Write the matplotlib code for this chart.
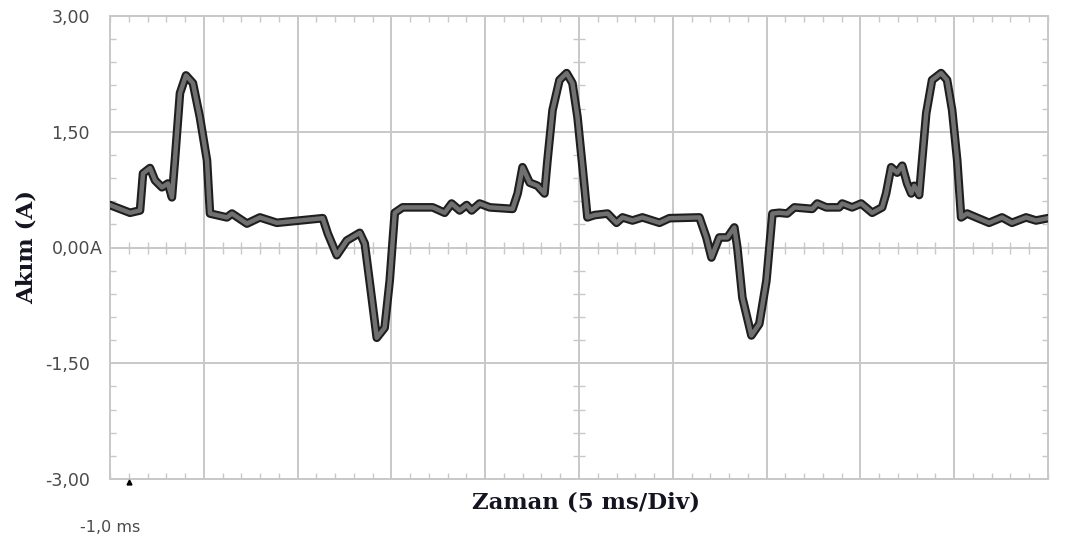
import numpy as np
import matplotlib.pyplot as plt
from matplotlib.ticker import MultipleLocator

# current trace, time in ms, current in A
t_ms = [-1.00, 0.07, 0.60, 0.76, 1.13, 1.40, 1.77, 2.09, 2.30, 2.46, 2.73, 3.05,
        3.42, 3.79, 4.17, 4.33, 5.23, 5.50, 6.30, 6.99, 7.89, 9.12, 10.34, 10.61,
        11.09, 11.62, 12.31, 12.58, 12.95, 13.22, 13.64, 13.91, 14.18, 14.60, 16.20,
        16.84, 17.21, 17.64, 18.01, 18.28, 18.70, 19.24, 20.46, 20.73, 20.99, 21.37,
        21.79, 22.16, 22.32, 22.59, 22.96, 23.34, 23.65, 23.92, 24.19, 24.45, 24.83,
        25.52, 26.00, 26.32, 26.85, 27.38, 28.29, 28.82, 30.42, 30.79, 31.06, 31.48,
        31.91, 32.28, 32.44, 32.71, 33.19, 33.61, 33.99, 34.31, 34.68, 35.10, 35.48,
        36.43, 36.70, 37.18, 37.87, 38.03, 38.56, 39.04, 39.63, 40.16, 40.37, 40.64,
        40.96, 41.23, 41.49, 41.71, 41.87, 42.13, 42.29, 42.51, 42.82, 43.30, 43.62,
        43.89, 44.16, 44.37, 44.69, 45.17, 45.86, 46.55, 47.08, 47.83, 48.36, 49.00]
akim = [0.55, 0.45, 0.48, 0.96, 1.03, 0.87, 0.78, 0.83, 0.65, 1.13, 2.00, 2.23,
        2.13, 1.69, 1.13, 0.44, 0.39, 0.44, 0.31, 0.39, 0.32, 0.35, 0.38, 0.18,
        -0.10, 0.09, 0.19, 0.05, -0.65, -1.17, -1.04, -0.43, 0.45, 0.52, 0.52,
        0.45, 0.57, 0.48, 0.55, 0.48, 0.57, 0.52, 0.50, 0.70, 1.04, 0.84,
        0.80, 0.70, 1.13, 1.78, 2.17, 2.26, 2.13, 1.69, 1.04, 0.39, 0.42,
        0.44, 0.32, 0.39, 0.35, 0.39, 0.32, 0.38, 0.39, 0.13, -0.13, 0.13,
        0.13, 0.26, 0.00, -0.65, -1.14, -0.99, -0.43, 0.44, 0.45, 0.44, 0.52,
        0.50, 0.57, 0.52, 0.52, 0.57, 0.52, 0.57, 0.45, 0.52, 0.70, 1.04,
        0.97, 1.06, 0.83, 0.70, 0.80, 0.68, 1.13, 1.74, 2.17, 2.26, 2.17,
        1.78, 1.13, 0.39, 0.44, 0.39, 0.32, 0.39, 0.32, 0.39, 0.35, 0.38]

y_ticks = [-3.0, -1.5, 0.0, 1.5, 3.0]
y_tick_labels = ['-3,00', '-1,50', '0,00', '1,50', '3,00']
t_start, t_div, n_div = -1.0, 5.0, 10

grid_c = '#c8c8c8'
label_c = '#4a4a4a'
title_c = '#141420'

fig = plt.figure(figsize=(10.66, 5.39), dpi=100)
ax = fig.add_axes([110 / 1066, 60 / 539, 938 / 1066, 463 / 539])

t_end = t_start + t_div * n_div
ax.set_xlim(t_start, t_end)
ax.set_ylim(-3, 3)

# grid every division, minor ticks every 1/5 division
ax.set_xticks(np.arange(t_start + t_div, t_end, t_div))
ax.set_yticks(y_ticks)
ax.set_yticklabels(y_tick_labels)
ax.xaxis.set_minor_locator(MultipleLocator(t_div / 5))
ax.yaxis.set_minor_locator(MultipleLocator(0.3))
ax.tick_params(axis='x', which='major', length=0, labelbottom=False)
ax.tick_params(axis='y', which='major', length=0, pad=14.4,
               labelsize=12.5, labelcolor=label_c)
ax.tick_params(which='minor', direction='in', length=4.3, width=1,
               color=grid_c, top=True, right=True)
ax.grid(True, which='major', color=grid_c, lw=1.4)
ax.set_axisbelow(True)
for s in ax.spines.values():
    s.set_color(grid_c)
    s.set_linewidth(1.4)

# unit suffix on the zero label
ax.annotate('A', xy=(0, 0), xycoords=('axes fraction', 'data'),
            xytext=(-14.4, 0), textcoords='offset points',
            ha='left', va='center_baseline', fontsize=12.5, color=label_c)

# cross ticks along the centre lines
xm = ax.xaxis.get_minorticklocs()
ym = ax.yaxis.get_minorticklocs()
xm = xm[(xm > t_start) & (xm < t_end)]
ym = ym[(ym > -3) & (ym < 3)]
t_mid = t_start + t_div * n_div / 2
ax.plot(xm, np.zeros(len(xm)), ls='none', marker='|', ms=8, mew=1,
        color=grid_c, zorder=1)
ax.plot(np.full(len(ym), t_mid), ym, ls='none', marker='_', ms=8, mew=1,
        color=grid_c, zorder=1)

# trace: dark outline with grey core
ax.plot(t_ms, akim, color='#1e1e1e', lw=6.2, solid_joinstyle='round',
        solid_capstyle='round', zorder=3)
ax.plot(t_ms, akim, color='#707070', lw=3.2, solid_joinstyle='round',
        solid_capstyle='round', zorder=4)

# trigger point marker
ax.plot([0], [-3.04], marker='^', ms=3.5, color='black', clip_on=False, zorder=5)

fig.text(110 / 1066, 1 - 527 / 539, '-1,0 ms', ha='center', va='center',
         fontsize=11.5, color=label_c)
fig.text(586 / 1066, 1 - 503 / 539, 'Zaman (5 ms/Div)', ha='center', va='center',
         fontsize=16.5, fontweight='bold', family='DejaVu Serif', color=title_c)
fig.text(27 / 1066, 1 - 247 / 539, 'Akım (A)', ha='center', va='center', rotation=90,
         fontsize=16.5, fontweight='bold', family='DejaVu Serif', color=title_c)

fig.savefig('out.png', dpi=100)
